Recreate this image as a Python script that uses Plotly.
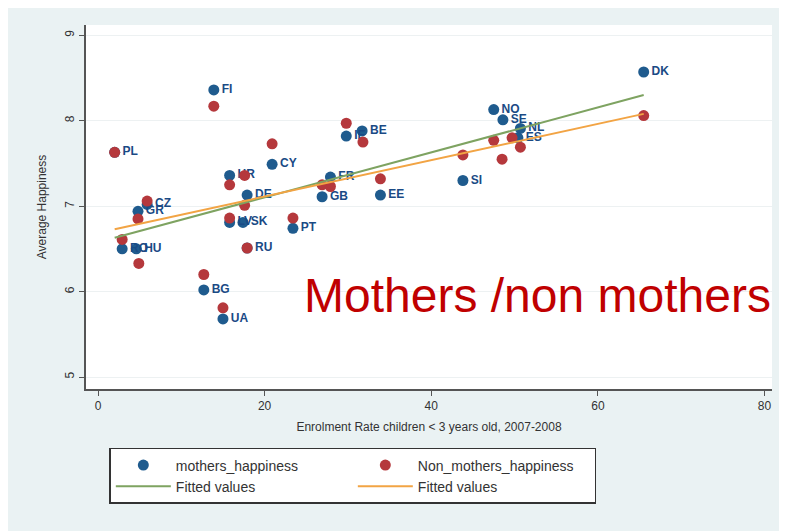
import plotly.graph_objects as go

# Mothers (blue) points
mothers_x = [2.0, 2.9, 4.6, 4.8, 5.9, 12.7, 13.9, 15.0, 15.8, 15.8, 17.4, 17.9, 17.9,
             20.9, 23.4, 26.9, 27.9, 29.8, 31.7, 33.9, 43.8, 47.5, 48.6, 50.7, 50.4, 65.5]
mothers_y = [7.63, 6.50, 6.50, 6.94, 7.02, 6.02, 8.36, 5.68, 7.36, 6.81, 6.81, 7.13, 6.51,
             7.49, 6.74, 7.11, 7.34, 7.82, 7.88, 7.13, 7.30, 8.13, 8.01, 7.91, 7.80, 8.57]
mothers_lbl = ["PL", "RO", "HU", "GR", "CZ", "BG", "FI", "UA", "HR", "LV", "SK", "DE", "RU",
               "CY", "PT", "GB", "FR", "IE", "BE", "EE", "SI", "NO", "SE", "NL", "ES", "DK"]

# Non-mothers (red) points
non_x = [2.0, 2.9, 4.9, 5.9, 4.8, 12.7, 13.9, 15.0, 15.8, 17.6, 17.6, 15.8, 17.9,
         20.9, 23.4, 26.9, 27.9, 29.8, 31.8, 33.9, 43.8, 47.5, 48.5, 49.7, 50.7, 65.5]
non_y = [7.63, 6.61, 6.33, 7.06, 6.85, 6.20, 8.17, 5.81, 7.25, 7.36, 7.01, 6.86, 6.51,
         7.73, 6.86, 7.25, 7.23, 7.97, 7.75, 7.32, 7.60, 7.77, 7.55, 7.80, 7.69, 8.06]

# Fitted lines (end points)
fit_x = [2.0, 65.5]
fit_mothers = [6.63, 8.30]
fit_non = [6.73, 8.08]

x_ticks = [0, 20, 40, 60, 80]
y_ticks = [5, 6, 7, 8, 9]

BLUE = "#1f5b8e"
RED = "#b5383c"
GREEN = "#7ea361"
ORANGE = "#f2a444"
FONT = "Liberation Sans, Arial, sans-serif"

fig = go.Figure()

fig.add_trace(go.Scatter(
    x=mothers_x, y=mothers_y, mode="markers+text", name="mothers_happiness",
    text=mothers_lbl, textposition="middle right",
    textfont=dict(size=12, color="#1a4a85", family=FONT, weight=700),
    marker=dict(size=11, color=BLUE),
))
fig.add_trace(go.Scatter(
    x=non_x, y=non_y, mode="markers", name="Non_mothers_happiness",
    marker=dict(size=11, color=RED),
))
fig.add_trace(go.Scatter(
    x=fit_x, y=fit_mothers, mode="lines", name="Fitted values",
    line=dict(color=GREEN, width=2),
))
fig.add_trace(go.Scatter(
    x=fit_x, y=fit_non, mode="lines", name="Fitted values",
    line=dict(color=ORANGE, width=2),
))

# big red caption inside the plot
fig.add_annotation(
    text="Mothers /non mothers", x=52.7, y=5.95, xref="x", yref="y",
    showarrow=False, xanchor="center", yanchor="middle",
    font=dict(size=48, color="#c00000", family=FONT),
)

# page body adds 8px margin, so the figure is 8px smaller than the window
fig.update_layout(
    width=779, height=523,
    paper_bgcolor="#eaf2f3", plot_bgcolor="white",
    margin=dict(l=78, r=15, t=17, b=142),
    font=dict(family=FONT, size=12, color="#333"),
    showlegend=True,
    legend=dict(
        orientation="h", x=0.034, xanchor="left", y=-0.162, yanchor="top",
        bgcolor="white", bordercolor="#333", borderwidth=1.5,
        entrywidth=172, itemwidth=55,
        font=dict(size=14, color="#333", family=FONT),
    ),
)

fig.update_xaxes(
    range=[-1.44, 80.9], tickvals=x_ticks, showgrid=False, zeroline=False,
    showline=True, linecolor="#555", linewidth=2,
    ticks="outside", ticklen=5, tickcolor="#555",
    tickfont=dict(size=12, color="#333"),
    title=dict(text="Enrolment Rate children < 3 years old, 2007-2008",
               font=dict(size=12, color="#333"), standoff=10),
)
fig.update_yaxes(
    range=[4.86, 9.12], tickvals=y_ticks, tickangle=-90,
    showgrid=True, gridcolor="#edf1f2", gridwidth=1, zeroline=False,
    showline=True, linecolor="#555", linewidth=2,
    ticks="outside", ticklen=5, tickcolor="#555",
    tickfont=dict(size=12, color="#333"),
    title=dict(text="Average Happiness", font=dict(size=12, color="#333"), standoff=14),
)

fig.write_html("out.html")
